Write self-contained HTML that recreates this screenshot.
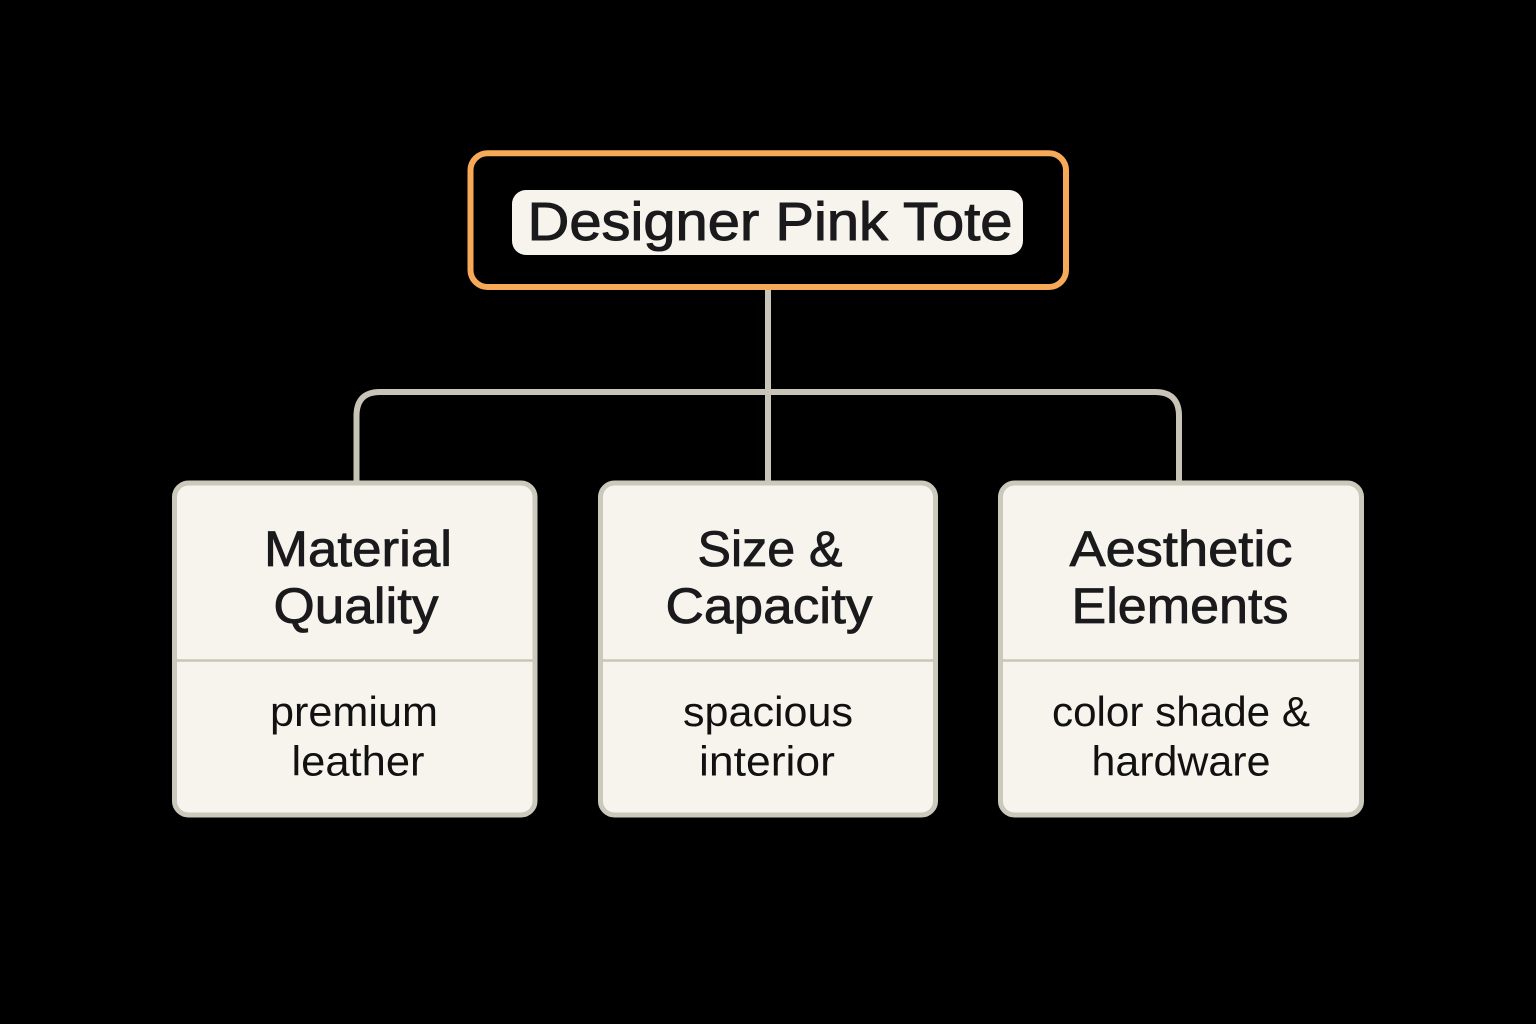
<!DOCTYPE html>
<html><head><meta charset="utf-8"><style>
html,body{margin:0;padding:0;background:#000}
svg{display:block}
text{font-family:"Liberation Sans",sans-serif;fill:#1a1a1c;text-anchor:middle}
</style></head><body>
<svg width="1536" height="1024" viewBox="0 0 1536 1024" xmlns="http://www.w3.org/2000/svg">
<rect width="1536" height="1024" fill="#000"/>
<g fill="none" stroke="#c8c5b8" stroke-width="6">
<path d="M768 288V482"/>
<path d="M356.500 482V416Q356.500 392 380 392H1155Q1179 392 1179 416V482"/>
</g>
<rect x="470.500" y="153.300" width="595.500" height="133.700" rx="17" fill="#000" stroke="#f6a957" stroke-width="6"/>
<rect x="512" y="190" width="511" height="65" rx="14" fill="#f7f4ed"/>
<text x="770" y="240" font-size="54" textLength="485" lengthAdjust="spacingAndGlyphs" stroke="#1a1a1c" stroke-width="1">Designer Pink Tote</text>
<g fill="#f7f4ed" stroke="#cbc8bc" stroke-width="5">
<rect x="174.500" y="483" width="360.500" height="332" rx="14"/>
<rect x="600.500" y="483" width="335" height="332" rx="14"/>
<rect x="1000.500" y="483" width="361" height="332" rx="14"/>
</g>
<g stroke="#c8c5b8" stroke-width="2.500">
<path d="M176 660.500H533M602 660.500H934M1002 660.500H1360"/>
</g>
<g font-size="50" stroke="#1a1a1c" stroke-width="0.800">
<text x="358" y="566" textLength="188" lengthAdjust="spacingAndGlyphs">Material</text>
<text x="356" y="623" textLength="165" lengthAdjust="spacingAndGlyphs">Quality</text>
<text x="770" y="566" textLength="145" lengthAdjust="spacingAndGlyphs">Size &amp;</text>
<text x="769" y="623" textLength="207" lengthAdjust="spacingAndGlyphs">Capacity</text>
<text x="1181" y="566" textLength="223" lengthAdjust="spacingAndGlyphs">Aesthetic</text>
<text x="1180" y="623" textLength="217" lengthAdjust="spacingAndGlyphs">Elements</text>
</g>
<g font-size="42" style="fill:#111">
<text x="354" y="726" textLength="168" lengthAdjust="spacingAndGlyphs" style="fill:#111">premium</text>
<text x="358" y="775.500" textLength="133" lengthAdjust="spacingAndGlyphs" style="fill:#111">leather</text>
<text x="768" y="726" textLength="170" lengthAdjust="spacingAndGlyphs" style="fill:#111">spacious</text>
<text x="767" y="775.500" textLength="136" lengthAdjust="spacingAndGlyphs" style="fill:#111">interior</text>
<text x="1181" y="726" textLength="258" lengthAdjust="spacingAndGlyphs" style="fill:#111">color shade &amp;</text>
<text x="1181" y="775.500" textLength="179" lengthAdjust="spacingAndGlyphs" style="fill:#111">hardware</text>
</g>
</svg>
</body></html>
